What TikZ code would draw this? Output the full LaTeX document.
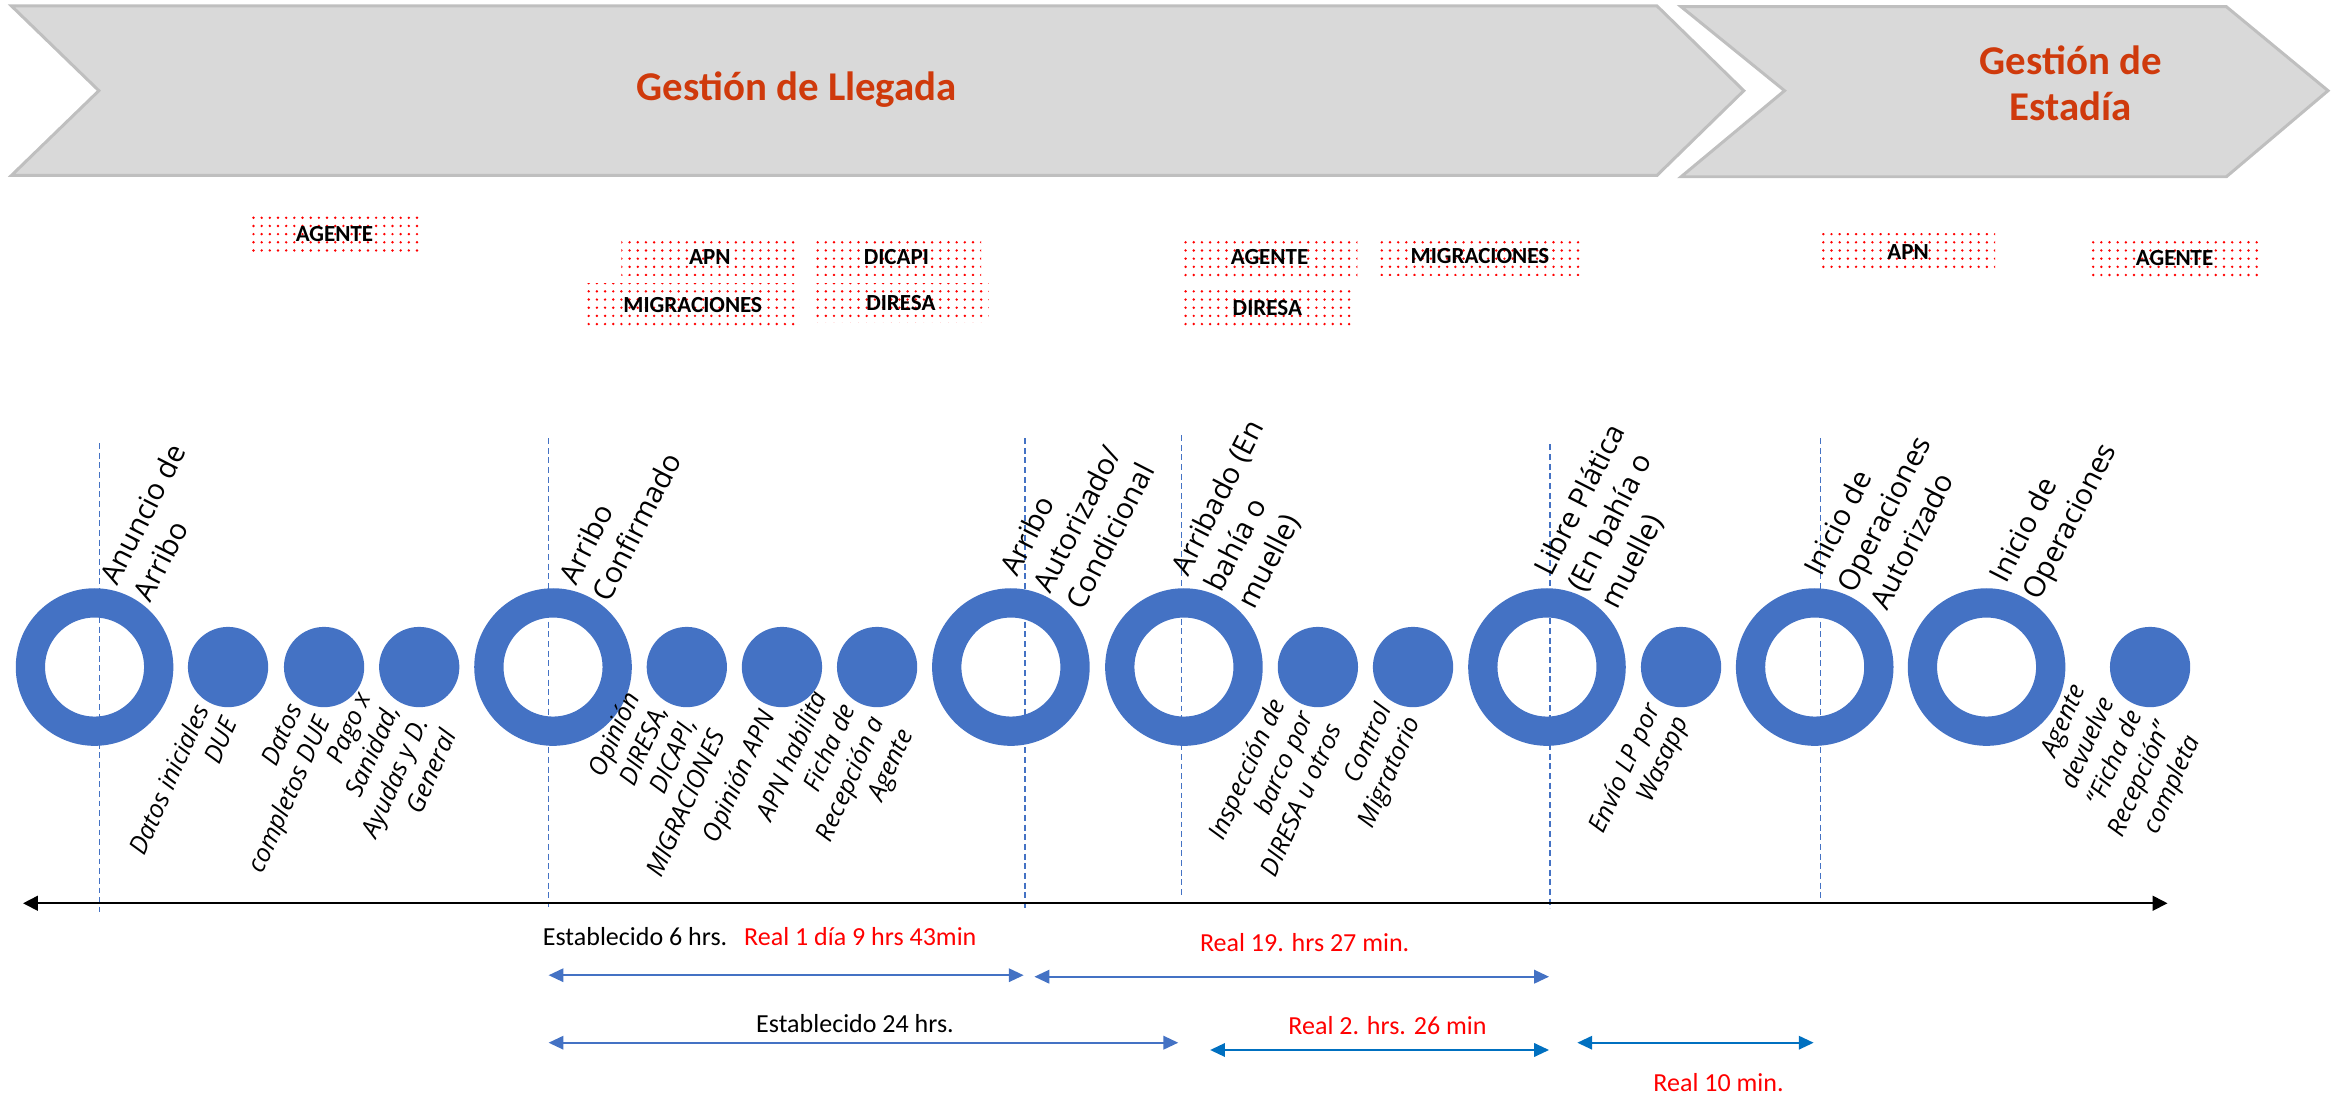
\documentclass[tikz,border=0pt]{standalone}
\usepackage{fontspec}
\setmainfont{Carlito}
\newfontfamily\lblfont{Open Sans}
\usepackage{tikz}
\usetikzlibrary{arrows.meta}
\usetikzlibrary{patterns.meta}
\usetikzlibrary{positioning}
\definecolor{ringblue}{HTML}{4472C4}
\definecolor{spanblue}{HTML}{0070C0}
\definecolor{bannergray}{HTML}{D9D9D9}
\definecolor{bannerline}{HTML}{BFBFBF}
\definecolor{phasered}{HTML}{CF3A0C}
\tikzstyle{banner} = [fill=bannergray, draw=bannerline, line width=2pt]
\tikzstyle{phase} = [text=phasered, align=center, inner sep=0pt,
    font=\bfseries\fontsize{27.5}{31}\selectfont]
\tikzstyle{role} = [rectangle, pattern={Dots[distance=5.5pt,radius=0.9pt]},
    pattern color=red, minimum height=26pt, inner sep=0pt,
    font=\bfseries\fontsize{15.5}{18}\selectfont]
\tikzstyle{ring} = [circle, draw=ringblue, line width=19.7pt,
    minimum size=86.3pt, inner sep=0pt, outer sep=0pt]
\tikzstyle{dot} = [circle, fill=ringblue, minimum size=54pt, inner sep=0pt]
\tikzstyle{toplbl} = [rotate=63, anchor=west, align=left, inner sep=0pt,
    font=\lblfont\fontsize{19.5}{25}\selectfont]
\tikzstyle{botlbl} = [rotate=66, anchor=east, align=right, inner sep=0pt,
    font=\lblfont\itshape\fontsize{17}{21}\selectfont]
\tikzstyle{guide} = [draw=ringblue, line width=0.8pt, dash pattern=on 4pt off 2.5pt]
\tikzstyle{timeline} = [draw=black, line width=1.2pt,
    {Triangle[length=10pt,width=10pt]}-{Triangle[length=10pt,width=10pt]}]
\tikzstyle{span} = [draw=ringblue, line width=1.5pt,
    {Triangle[length=10pt,width=9pt]}-{Triangle[length=10pt,width=9pt]}]
\tikzstyle{timetxt} = [inner sep=0pt, font=\fontsize{17.5}{21}\selectfont]
\begin{document}
\begin{tikzpicture}[x=1pt,y=-1pt]
    \useasboundingbox (0,0) rectangle (1568,746);
    % Banners
    \draw[banner] (7.7,4) -- (1114.6,4) -- (1173,61) -- (1114.6,118)
        -- (7.7,118) -- (66.5,61) -- cycle;
    \draw[banner] (1130.8,4.5) -- (1497.6,4.5) -- (1566,61) -- (1497.6,118.9)
        -- (1130.8,118.9) -- (1200.4,61) -- cycle;
    \node[phase, anchor=base] (llegada) at (536,67.3) {Gestión de Llegada};
    \node[phase] (estadia) at (1393,56) {Gestión de\\Estadía};
    % Place nodes
    \node[role, minimum width=118pt] (agente1) at (225,157.3) {AGENTE};
    \node[role, minimum width=119pt] (apn1) at (477.5,172.6) {APN};
    \node[role, minimum width=114pt] (dicapi) at (603,172.6) {DICAPI};
    \node[role, minimum width=144pt, minimum height=29pt] (migra1) at (466,205.3) {MIGRACIONES};
    \node[role, minimum width=118pt] (diresa1) at (606,203.8) {DIRESA};
    \node[role, minimum width=118pt] (agente2) at (854,172.8) {AGENTE};
    \node[role, minimum width=140pt] (migra2) at (995.5,172.5) {MIGRACIONES};
    \node[role, minimum width=115pt] (diresa2) at (852.5,207.3) {DIRESA};
    \node[role, minimum width=117pt] (apn2) at (1283.5,169.8) {APN};
    \node[role, minimum width=118pt] (agente3) at (1462.8,173.5) {AGENTE};
    % Guides (behind the rings)
    \coordinate (g1t) at (66.8,298);    \coordinate (g1b) at (66.8,613.5);
    \coordinate (g2t) at (369,294.7);   \coordinate (g2b) at (369,610);
    \coordinate (g3t) at (689.5,294.7); \coordinate (g3b) at (689.5,612);
    \coordinate (g4t) at (794.6,292.6); \coordinate (g4b) at (794.6,603.6);
    \coordinate (g5t) at (1042.6,299);  \coordinate (g5b) at (1042.6,611);
    \coordinate (g6t) at (1224.7,294.7); \coordinate (g6b) at (1224.7,607);
    \draw[guide] (g1t) -- (g1b);
    \draw[guide] (g2t) -- (g2b);
    \draw[guide] (g3t) -- (g3b);
    \draw[guide] (g4t) -- (g4b);
    \draw[guide] (g5t) -- (g5b);
    \draw[guide] (g6t) -- (g6b);
    \node[ring] (r1) at (63.6,448.7) {};
    \node[dot] (d1) at (153.4,448.7) {};
    \node[dot] (d2) at (218,448.7) {};
    \node[dot] (d3) at (282,448.7) {};
    \node[ring] (r2) at (372,448.7) {};
    \node[dot] (d4) at (462,448.7) {};
    \node[dot] (d5) at (526,448.7) {};
    \node[dot] (d6) at (590,448.7) {};
    \node[ring] (r3) at (680,448.7) {};
    \node[ring] (r4) at (796.4,448.7) {};
    \node[dot] (d7) at (886.5,448.7) {};
    \node[dot] (d8) at (950.5,448.7) {};
    \node[ring] (r5) at (1040.6,448.7) {};
    \node[dot] (d9) at (1130.8,448.7) {};
    \node[ring] (r6) at (1220.7,448.7) {};
    \node[ring] (r7) at (1336.3,448.7) {};
    \node[dot] (d10) at (1446.3,448.7) {};
    % Milestone labels
    \node[toplbl] (l-r1) at ([shift={(20pt,51.7pt)}]r1.center) {Anuncio de\\Arribo};
    \node[toplbl] (l-r2) at ([shift={(20pt,51.7pt)}]r2.center) {Arribo\\Confirmado};
    \node[toplbl] (l-r3) at ([shift={(20pt,51.7pt)}]r3.center) {Arribo\\Autorizado/\\Condicional};
    \node[toplbl] (l-r4) at ([shift={(20pt,51.7pt)}]r4.center) {Arribado (En\\bahía o\\muelle)};
    \node[toplbl] (l-r5) at ([shift={(20pt,51.7pt)}]r5.center) {Libre Plática\\(En bahía o\\muelle)};
    \node[toplbl] (l-r6) at ([shift={(20pt,51.7pt)}]r6.center) {Inicio de\\Operaciones\\Autorizado};
    \node[toplbl] (l-r7) at ([shift={(20pt,51.7pt)}]r7.center) {Inicio de\\Operaciones};
    % Step labels
    \node[botlbl] (l-d1) at ([shift={(-8.5pt,-30.3pt)}]d1.center) {Datos iniciales\\DUE};
    \node[botlbl] (l-d2) at ([shift={(-8.5pt,-30.3pt)}]d2.center) {Datos\\completos DUE};
    \node[botlbl] (l-d3) at ([shift={(-8.5pt,-30.3pt)}]d3.center) {Pago x\\Sanidad,\\Ayudas y D.\\General};
    \node[botlbl] (l-d4) at ([shift={(-8.5pt,-30.3pt)}]d4.center) {Opinión\\DIRESA,\\DICAPI,\\MIGRACIONES};
    \node[botlbl] (l-d5) at ([shift={(-8.5pt,-30.3pt)}]d5.center) {Opinión APN};
    \node[botlbl] (l-d6) at ([shift={(-8.5pt,-30.3pt)}]d6.center) {APN habilita\\Ficha de\\Recepción a\\Agente};
    \node[botlbl] (l-d7) at ([shift={(-8.5pt,-30.3pt)}]d7.center) {Inspección de\\barco por\\DIRESA u otros};
    \node[botlbl] (l-d8) at ([shift={(-8.5pt,-30.3pt)}]d8.center) {Control\\Migratorio};
    \node[botlbl] (l-d9) at ([shift={(-8.5pt,-30.3pt)}]d9.center) {Envío LP por\\Wasapp};
    \node[botlbl] (l-d10) at ([shift={(-8.5pt,-30.3pt)}]d10.center) {Agente\\devuelve\\“Ficha de\\Recepción”\\completa};
    % Time line
    \coordinate (tl-l) at (15.5,607.6);
    \coordinate (tl-r) at (1458,607.6);
    \path[timeline] (tl-l) -- (tl-r);
    % Durations
    \node[timetxt, anchor=base west] (est6) at (365,635.7) {Establecido 6 hrs.};
    \node[timetxt, text=red, right=11pt of est6] (real1) {Real 1 día 9 hrs 43min};
    \node[timetxt, text=red, anchor=base west] (real19) at (807,640.2) {Real 19. hrs 27 min.};
    \node[timetxt, anchor=base west] (est24) at (508.5,694.7) {Establecido 24 hrs.};
    \node[timetxt, text=red, anchor=base west] (real2) at (866.5,695.6) {Real 2. hrs. 26 min};
    \node[timetxt, text=red, anchor=base west] (real10) at (1112,734.3) {Real 10 min.};
    \coordinate (s1a) at (369,656);    \coordinate (s1b) at (688.6,656);
    \coordinate (s2a) at (695.8,657);  \coordinate (s2b) at (1042,657);
    \coordinate (s3a) at (369,701.4);  \coordinate (s3b) at (792.6,701.4);
    \coordinate (s4a) at (814,706.3);  \coordinate (s4b) at (1042,706.3);
    \coordinate (s5a) at (1061,701.4); \coordinate (s5b) at (1220,701.4);
    \path[span] (s1a) -- (s1b);
    \path[span] (s2a) -- (s2b);
    \path[span] (s3a) -- (s3b);
    \path[span, draw=spanblue] (s4a) -- (s4b);
    \path[span, draw=spanblue] (s5a) -- (s5b);
\end{tikzpicture}
\end{document}
